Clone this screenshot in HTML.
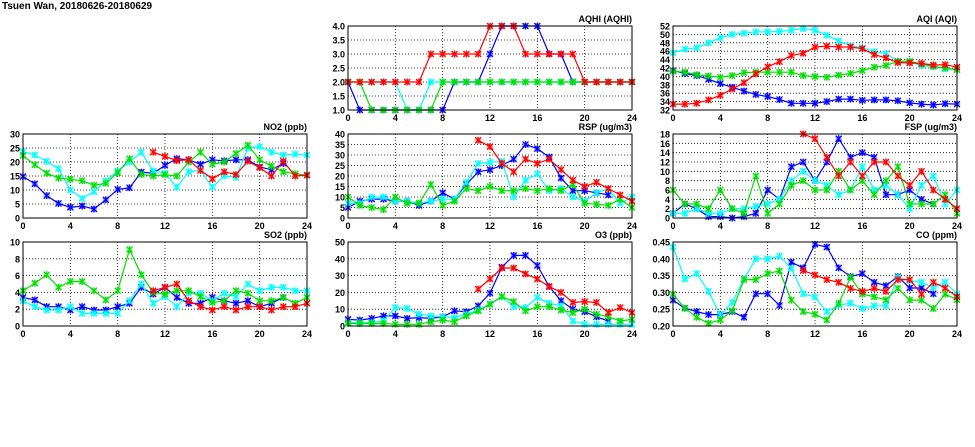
<!DOCTYPE html>
<html><head><meta charset="utf-8">
<style>
html,body{margin:0;padding:0;background:#fff;}
svg{display:block;font-family:"Liberation Sans",sans-serif;}
</style></head>
<body>
<svg id="chart" width="975" height="447" viewBox="0 0 975 447">
<text x="2" y="9" font-size="10" font-weight="bold">Tsuen Wan, 20180626-20180629</text>
</svg>
<script>
const n = null;
const hours = [0,1,2,3,4,5,6,7,8,9,10,11,12,13,14,15,16,17,18,19,20,21,22,23,24];
const xTicks = [0,4,8,12,16,20,24];
const seriesColors = ["#0000ff","#00ffff","#00e000","#ff0000"];

const aqhiTicks = [1.0,1.5,2.0,2.5,3.0,3.5,4.0];
const aqhiBlue = [2,1,1,1,1,1,1,1,1,2,2,2,3,4,4,4,4,3,3,2,2,2,2,2,2];
const aqhiCyan = [2,2,2,2,2,1,1,2,2,2,2,2,2,2,2,2,2,2,2,2,2,2,2,2,2];
const aqhiGreen = [2,2,1,1,1,1,1,1,2,2,2,2,2,2,2,2,2,2,2,2,2,2,2,2,2];
const aqhiRed = [2,2,2,2,2,2,2,3,3,3,3,3,4,4,4,3,3,3,3,3,2,2,2,2,2];

const aqiTicks = [32,34,36,38,40,42,44,46,48,50,52];
const aqiBlue = [41.4,40.7,40.2,39.3,38.3,37.4,36.5,35.7,35.2,34.5,33.6,33.6,33.6,34,34.6,34.6,34.3,34.4,34.4,34.2,33.7,33.4,33.2,33.5,33.4];
const aqiCyan = [45.6,46.5,46.8,48,49.2,50,50.3,50.6,50.6,50.7,51,51.4,51,49.8,48.4,47.3,46.8,45.9,45.4,43.6,43.4,42.6,42.3,41.8,41.6];
const aqiGreen = [41.2,41,40.4,40.1,39.8,40.2,40.9,41,41,41,41,40.2,40,39.8,40.3,40.7,41.4,42.2,42.6,43.6,43.6,43,42.4,42,41.6];
const aqiRed = [33.4,33.4,33.6,34.4,35.5,37,38.5,40.6,42.3,43.5,45,45.5,47,47.2,47,47,46.6,45.2,44.4,43.3,43.2,43.1,42.7,42.8,42.2];

const no2Ticks = [0,5,10,15,20,25,30];
const no2Blue = [14.8,12.2,8,5.2,3.8,4.3,3.2,6.5,10.2,10.8,16.4,16,18.8,21.2,20.8,19.2,20.8,20.4,20.8,20.8,18.2,17.2,19.5,n,n];
const no2Cyan = [23.8,22.5,20.2,17.6,10,7,9.4,13.2,16.8,20,23.5,16.8,16,11,16.5,17,11,15,14.5,25,25.5,23.5,22.5,22.8,22.5];
const no2Green = [22.3,19,16,14.3,13.8,13.3,11.7,12.4,16.2,21.2,15.6,15,15.5,15,20,23.5,19.2,20,23,26,20.8,18.5,16.5,15.8,15.3];
const no2Red = [n,n,n,n,n,n,n,n,n,n,n,23.5,22,20.5,20.8,17,14,16.5,15.5,20.3,18,15,20.3,15,15.3];

const rspTicks = [0,5,10,15,20,25,30,35,40];
const rspBlue = [5,8,9,9,8,8,6,8,12,9,16,22,23,25,28,35,33,29,19,13,13,12,11,n,n];
const rspCyan = [7,7,10,10,8,8,7,8,9,9,17,26,26.5,27,10,18,21,13,14,10,8,12,14,7,10];
const rspGreen = [10,6,5,4,10,7,7,16,6,8,14,13,15,13,13,14,13,14,13,16,7,6.5,6,9,5];
const rspRed = [n,n,n,n,n,n,n,n,n,n,n,37,34,26,22,28,26,28,23,18,15,17,14,11,8];

const fspTicks = [0,2,4,6,8,10,12,14,16,18];
const fspBlue = [1,3,2,0.3,0.3,0,0.3,1,6,4,11,12,8,12,17,13,14,13,5,5,6,4,3,n,n];
const fspCyan = [1,1,2,1,1,2,2,2.5,3,4,8,10,8,7,5,6,11,6,7,5,2,7,9,3,6];
const fspGreen = [6,3,3,2,6,2,1,9,1,3,7,8,6,6,10,6,8,5,8,11,3,3,3,5,1];
const fspRed = [n,n,n,n,n,n,n,n,n,n,n,18,17,13,9,12,9,12,12,9,7,10,6,4,2];

const so2Ticks = [0,2,4,6,8,10];
const so2Blue = [3.4,3.1,2.3,2.3,1.9,2.3,1.9,1.9,2.3,2.7,4.6,3.8,4.6,3.4,2.7,2.7,3.4,3,2.7,3,2.3,2.7,3.4,n,n];
const so2Cyan = [3,2.3,1.9,1.9,2.3,1.5,1.5,1.5,1.5,3,5,2.7,3.5,2.3,3.9,3.9,3,3.9,3.5,5,4.2,4.6,4.6,4.2,4.2];
const so2Green = [4.2,5.1,6.1,4.6,5.3,5.3,4.2,3.1,4.2,9.1,6.1,4,3.8,4.2,4.2,3.5,2.8,3,4.2,3.9,3,3,3.4,2.7,3.4];
const so2Red = [n,n,n,n,n,n,n,n,n,n,n,4.2,4.6,5,3,2.3,1.9,2.3,1.9,2.3,2.3,1.9,2.3,2.3,2.7];

const o3Ticks = [0,10,20,30,40,50];
const o3Blue = [4,3.5,4.5,6,6,4.5,5,4.5,5.5,9,8.5,12,19.5,35,42,42,36,23.5,15,10,8.5,5.5,3,n,n];
const o3Cyan = [2,2,2,3,11,10.5,7,6,5.5,5,7,9.5,13,17.5,11.5,11,17,13.5,12,3,1,1,1,1,1];
const o3Green = [1.5,1.5,1.5,1.5,1,1,1,2.5,3.5,2.5,6,9,13,17.5,14.5,9,11.5,11.5,9.5,8,10,7,5.5,3,4];
const o3Red = [n,n,n,n,n,n,n,n,n,n,n,22,28,34.5,34.5,31,28,23.5,20,14,14.5,14,8,11,8];

const coTicks = [0.20,0.25,0.30,0.35,0.40,0.45];
const coBlue = [0.277,0.253,0.243,0.234,0.234,0.243,0.226,0.296,0.296,0.261,0.39,0.373,0.443,0.435,0.373,0.347,0.356,0.33,0.32,0.347,0.313,0.313,0.296,n,n];
const coCyan = [0.435,0.34,0.356,0.303,0.232,0.27,0.34,0.40,0.40,0.408,0.372,0.296,0.286,0.243,0.262,0.268,0.252,0.26,0.26,0.345,0.335,0.33,0.315,0.33,0.295];
const coGreen = [0.295,0.253,0.226,0.208,0.218,0.245,0.338,0.338,0.356,0.364,0.277,0.243,0.235,0.218,0.267,0.345,0.295,0.287,0.278,0.312,0.277,0.277,0.252,0.295,0.278];
const coRed = [n,n,n,n,n,n,n,n,n,n,n,0.365,0.352,0.338,0.33,0.312,0.303,0.312,0.303,0.338,0.338,0.295,0.33,0.313,0.287];

const NS = "http://www.w3.org/2000/svg";
const svg = document.getElementById("chart");
function mk(tag, attrs, parent){
  const e = document.createElementNS(NS, tag);
  for (const k in attrs) e.setAttribute(k, attrs[k]);
  (parent||svg).appendChild(e);
  return e;
}

function panel(key, title, px, py, ticks, dec, series){
  const W = 284, H = 84;
  const ymin = ticks[0], ymax = ticks[ticks.length-1];
  const xs = h => px + h / 24 * W;
  const ys = v => py + H - (v - ymin) / (ymax - ymin) * H;
  const g = mk("g", {});
  
  
  const bg = mk("rect", {x:px, y:py, width:W, height:H, fill:"#fff"}, g);
  
  
  ticks.forEach((t,i) => {
    const y = ys(t);
    if (i > 0 && i < ticks.length-1) {
      const gl = mk("line", {x1:px, x2:px+W, y1:y, y2:y, stroke:"#000", "stroke-width":0.8, "stroke-dasharray":"1,2"}, g);
      
      
    }
    const tl = mk("text", {x:px-3, y:y+3.5, "font-size":9, "font-weight":"bold", "text-anchor":"end"}, g);
    tl.textContent = t.toFixed(dec);
    
    
  });
  xTicks.forEach((t,i) => {
    const x = xs(t);
    if (i > 0 && i < xTicks.length-1) {
      const gl = mk("line", {x1:x, x2:x, y1:py, y2:py+H, stroke:"#000", "stroke-width":0.8, "stroke-dasharray":"1,2"}, g);
      
      
    }
    const tl = mk("text", {x:x, y:py+H+11, "font-size":9, "font-weight":"bold", "text-anchor":"middle"}, g);
    tl.textContent = t;
    
    
  });
  const colorNames = ["blue","cyan","green","red"];
  series.forEach((vals, si) => {
    const c = seriesColors[si];
    let d = "", pen = false;
    vals.forEach((v,i) => {
      if (v === null) { pen = false; return; }
      d += (pen ? "L" : "M") + xs(hours[i]).toFixed(1) + "," + ys(v).toFixed(1);
      pen = true;
    });
    const sg = mk("g", {}, g);
    
    
    const p = mk("path", {d:d, fill:"none", stroke:c, "stroke-width":1.2}, sg);
    
    
    vals.forEach((v,i) => {
      if (v === null) return;
      const x = xs(hours[i]), y = ys(v);
      const m = mk("g", {}, sg);
      
      
      mk("rect", {x:x-3, y:y-3, width:6, height:6, fill:c, "fill-opacity":0.35}, m);
      mk("path", {d:`M${x-3},${y-3}L${x+3},${y+3}M${x-3},${y+3}L${x+3},${y-3}M${x},${y-3.5}L${x},${y+3.5}`, stroke:c, "stroke-width":1.2}, m);
    });
  });
  const br = mk("rect", {x:px, y:py, width:W, height:H, fill:"none", stroke:"#000", "stroke-width":1}, g);
  
  
  const tt = mk("text", {x:px+W, y:py-4, "font-size":9, "font-weight":"bold", "text-anchor":"end"}, g);
  tt.textContent = title;
  
  
}

panel("aqhi","AQHI (AQHI)",348,26,aqhiTicks,1,[aqhiBlue,aqhiCyan,aqhiGreen,aqhiRed]);
panel("aqi","AQI (AQI)",673,26,aqiTicks,0,[aqiBlue,aqiCyan,aqiGreen,aqiRed]);
panel("no2","NO2 (ppb)",23,134,no2Ticks,0,[no2Blue,no2Cyan,no2Green,no2Red]);
panel("rsp","RSP (ug/m3)",348,134,rspTicks,0,[rspBlue,rspCyan,rspGreen,rspRed]);
panel("fsp","FSP (ug/m3)",673,134,fspTicks,0,[fspBlue,fspCyan,fspGreen,fspRed]);
panel("so2","SO2 (ppb)",23,242,so2Ticks,0,[so2Blue,so2Cyan,so2Green,so2Red]);
panel("o3","O3 (ppb)",348,242,o3Ticks,0,[o3Blue,o3Cyan,o3Green,o3Red]);
panel("co","CO (ppm)",673,242,coTicks,2,[coBlue,coCyan,coGreen,coRed]);
</script>
</body></html>
